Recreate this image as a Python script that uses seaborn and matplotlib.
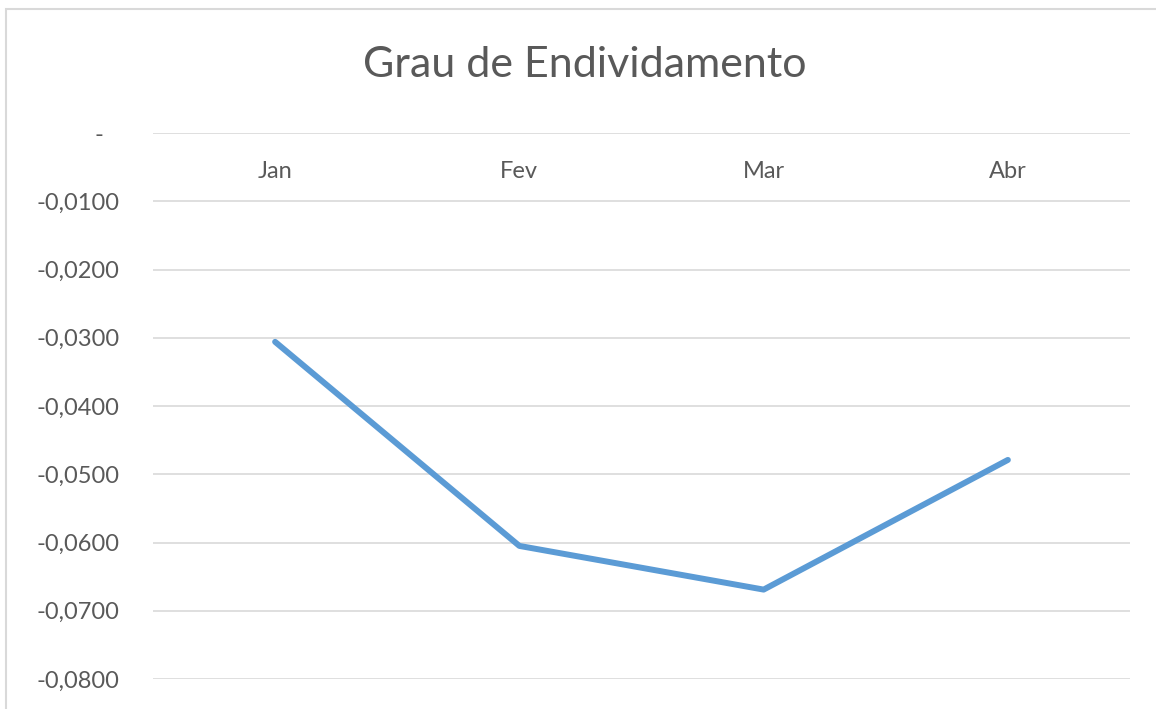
import seaborn as sns
import matplotlib.pyplot as plt
import matplotlib.transforms as mtransforms
from matplotlib.patches import Rectangle
import pandas as pd

# data
meses = ['Jan', 'Fev', 'Mar', 'Abr']
grau = [-0.0306, -0.0605, -0.0669, -0.0479]
yticks = [0, -0.01, -0.02, -0.03, -0.04, -0.05, -0.06, -0.07, -0.08]

sns.set_theme(style='white')
plt.rcParams['font.family'] = ['Lato', 'DejaVu Sans']

df = pd.DataFrame({'mes': meses, 'grau': grau})

W, H = 1156, 709
fig = plt.figure(figsize=(W / 100, H / 100), dpi=100)
ax = fig.add_axes([153 / W, 1 - 679 / H, (1130 - 153) / W, (679 - 133) / H])

sns.lineplot(data=df, x='mes', y='grau', ax=ax, color='#5B9BD5', linewidth=4.3,
             solid_capstyle='round', solid_joinstyle='round', sort=False)

ax.set_xlim(-0.5, len(meses) - 0.5)
ax.set_ylim(-0.08, 0)
ax.set_yticks(yticks)
labels = ['-'] + [('-0,%.4f' % abs(v)).replace('-0,0.', '-0,') for v in yticks[1:]]
ax.set_yticklabels(labels, color='#595959', fontsize=17)
ax.tick_params(axis='y', length=0, pad=24)
ax.yaxis.grid(True, color='#D9D9D9', linewidth=1.2)
ax.set_xticks([])
ax.set_xlabel('')
ax.set_ylabel('')
for s in ax.spines.values():
    s.set_visible(False)

# accounting-style zero label sits further left
zero_lbl = ax.get_yticklabels()[0]
zero_lbl.set_transform(zero_lbl.get_transform() +
                       mtransforms.ScaledTranslation(-0.16, 0, fig.dpi_scale_trans))

# category labels just under the zero line
trans = mtransforms.blended_transform_factory(ax.transData, ax.transAxes)
for i, m in enumerate(meses):
    ax.text(i, 1 - (171 - 133) / (679 - 133), m, transform=trans, ha='center',
            va='center', color='#595959', fontsize=17)

fig.text(585 / W, 1 - 65 / H, 'Grau de Endividamento', ha='center', va='center',
         color='#595959', fontsize=31)

# chart frame
fig.patches.append(Rectangle((6 / W, -0.05), 1.1, 1 - 9 / H + 0.05, transform=fig.transFigure,
                             fill=False, edgecolor='#D9D9D9', linewidth=1.5))

fig.savefig('out.png', dpi=100)
